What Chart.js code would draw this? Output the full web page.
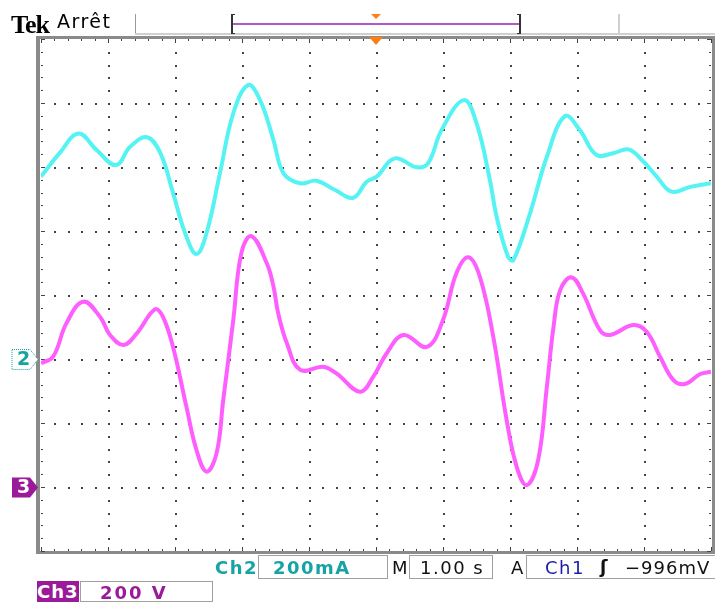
<!DOCTYPE html>
<html lang="fr">
<head>
<meta charset="UTF-8">
<title>Tek Arrêt</title>
<script src="https://cdn.jsdelivr.net/npm/chart.js"></script>
<style>
body { margin:0; background:#fff; font-family:"DejaVu Sans", sans-serif; }
#scope { position:relative; width:715px; height:603px; }
#scope canvas { position:absolute; left:0; top:0; }
.lbl { position:absolute; white-space:nowrap; line-height:1; }
.box { position:absolute; box-sizing:border-box; border:1px solid #a0a0a0; }
.teal { color:#17a3a3; font-weight:bold; font-size:18px; letter-spacing:1.5px; }
.blk { color:#111; font-size:18px; letter-spacing:1.5px; }
</style>
</head>
<body>
<div id="scope">
<canvas id="chart" width="715" height="603"></canvas>

<div class="lbl" style="left:11px; top:10px; font:bold 26px 'Liberation Serif', serif; letter-spacing:-1px;">Tek</div>
<div class="lbl" style="left:57px; top:12px; font-size:19px; letter-spacing:1.5px;">Arrêt</div>

<div class="lbl teal" style="left:215px; top:559px;">Ch2</div>
<div class="box" style="left:258px; top:555px; width:130px; height:24px;"></div>
<div class="lbl teal" style="left:273px; top:559px;">200mA</div>
<div class="lbl blk" style="left:392px; top:559px;">M</div>
<div class="box" style="left:409px; top:555px; width:84px; height:24px;"></div>
<div class="lbl blk" style="left:420px; top:559px;">1.00 s</div>
<div class="lbl blk" style="left:511px; top:559px;">A</div>
<div class="box" style="left:526px; top:555px; width:189px; height:24px; border-right:none;"></div>
<div class="lbl" style="left:545px; top:559px; color:#1c1ca8; font-size:18px; letter-spacing:1.5px;">Ch1</div>
<div class="lbl blk" style="left:600px; top:558px; font-weight:bold;">ʃ</div>
<div class="lbl blk" style="left:625px; top:559px; letter-spacing:1px;">−996mV</div>

<div class="lbl" style="left:37px; top:581px; width:42px; height:21px; background:#9a1a9a; color:#fff; font-weight:bold; font-size:18px; padding-top:2px; box-sizing:border-box; letter-spacing:1px;">Ch3</div>
<div class="box" style="left:80px; top:581px; width:133px; height:21px;"></div>
<div class="lbl" style="left:100px; top:584px; color:#9a1a9a; font-weight:bold; font-size:18px; letter-spacing:2px;">200 V</div>

<div class="lbl" style="left:17px; top:349px; color:#17a3a3; font-weight:bold; font-size:19px;">2</div>
<div class="lbl" style="left:17px; top:477px; color:#fff; font-weight:bold; font-size:19px;">3</div>
</div>

<script>
// Ch2 (courant) : 200 mA/div, masse à -1 div
const ch2Time = [0.00,0.28,0.56,0.83,1.12,1.33,1.58,1.78,1.97,2.15,2.32,2.47,2.67,2.87,3.09,3.27,3.47,3.62,3.87,4.11,4.39,4.66,4.86,5.01,5.28,5.61,5.78,5.98,6.31,6.50,6.70,6.80,6.97,7.05,7.30,7.55,7.82,8.04,8.29,8.54,8.77,8.99,9.19,9.41,9.69,10.0];
const ch2Current = [570,644,705,653,606,663,693,644,519,394,328,393,580,768,856,809,684,580,549,557,528,504,554,570,627,599,613,716,809,737,559,445,320,309,456,632,759,716,638,643,655,617,570,523,538,549];

// Ch3 (tension) : 200 V/div, masse à -3 div
const ch3Time = [0.00,0.18,0.38,0.63,0.88,1.03,1.23,1.43,1.70,1.82,1.97,2.17,2.32,2.47,2.62,2.72,2.87,2.99,3.14,3.37,3.47,3.54,3.67,3.87,4.21,4.41,4.76,4.96,5.16,5.41,5.76,6.00,6.20,6.38,6.55,6.75,6.95,7.10,7.25,7.42,7.55,7.65,7.75,7.92,8.09,8.34,8.49,8.84,9.04,9.24,9.44,9.61,9.84,10.0];
const ch3Voltage = [387,407,512,579,532,475,444,480,555,532,438,251,116,48,105,272,522,731,784,699,626,543,449,366,376,355,298,345,418,475,438,522,668,718,657,470,209,63,6,84,313,501,616,655,605,491,475,506,485,407,334,322,353,360];

const CH2_SCALE = 200, CH2_GND = -1;
const CH3_SCALE = 200, CH3_GND = -3;
const TRIG_TIME = 5;

// graticule + décor de l'écran
const scopeDecor = {
  id: 'scopeDecor',
  beforeDatasetsDraw(chart) {
    const {ctx, chartArea: a, scales: {x, y}} = chart;
    ctx.save();
    // cadre gris
    ctx.fillStyle = '#8a8a8a';
    ctx.fillRect(a.left - 5, a.top - 3, a.right - a.left + 9, 3);
    ctx.fillRect(a.left - 5, a.bottom, a.right - a.left + 9, 3);
    ctx.fillRect(a.left - 5, a.top - 3, 4, a.bottom - a.top + 6);
    ctx.fillRect(a.right + 1, a.top - 3, 3, a.bottom - a.top + 6);

    ctx.fillStyle = '#444';
    // graduations sur le bord
    for (let i = 0; i <= 50; i++) {
      const px = Math.round(x.getPixelForValue(i / 5));
      const len = i % 5 === 0 ? 4 : 2;
      ctx.fillRect(px, a.top, 1, len);
      ctx.fillRect(px, a.bottom - len, 1, len);
    }
    for (let i = -20; i <= 20; i++) {
      const py = Math.round(y.getPixelForValue(i / 5));
      const len = i % 5 === 0 ? 4 : 2;
      ctx.fillRect(a.left, py, len, 1);
      ctx.fillRect(a.right - len, py, len, 1);
    }
    // lignes pointillées des divisions
    for (let d = -3; d <= 3; d++) {
      const py = Math.round(y.getPixelForValue(d));
      for (let i = 1; i < 50; i++) {
        const px = Math.round(x.getPixelForValue(i / 5));
        ctx.fillRect(px, py, 2, 2);
      }
    }
    for (let d = 1; d <= 9; d++) {
      const px = Math.round(x.getPixelForValue(d));
      for (let i = -19; i < 20; i++) {
        const py = Math.round(y.getPixelForValue(i / 5));
        ctx.fillRect(px, py, 2, 2);
      }
    }
    ctx.restore();
  },
  afterDraw(chart) {
    const {ctx, chartArea: a, scales: {x, y}} = chart;
    ctx.save();
    // onglet du haut
    ctx.fillStyle = '#9a9a9a';
    ctx.fillRect(135, 14, 1, 21);
    ctx.fillStyle = '#d0d0d0';
    ctx.fillRect(618, 14, 2, 21);
    ctx.fillRect(135, 33, 580, 2);
    // barre d'enregistrement
    ctx.fillStyle = '#b556c6';
    ctx.fillRect(233, 23, 287, 2);
    ctx.fillStyle = '#333';
    ctx.fillRect(231, 14, 2, 20);
    ctx.fillRect(231, 14, 4, 1);
    ctx.fillRect(231, 33, 4, 1);
    ctx.fillRect(519, 14, 2, 20);
    ctx.fillRect(517, 14, 4, 1);
    ctx.fillRect(517, 33, 4, 1);
    // repères de déclenchement
    const tx = x.getPixelForValue(TRIG_TIME);
    ctx.fillStyle = '#ff7f10';
    ctx.beginPath();
    ctx.moveTo(tx - 5, 14); ctx.lineTo(tx + 5, 14); ctx.lineTo(tx, 19); ctx.closePath();
    ctx.fill();
    ctx.beginPath();
    ctx.moveTo(tx - 7, a.top - 2); ctx.lineTo(tx + 7, a.top - 2); ctx.lineTo(tx, a.top + 6); ctx.closePath();
    ctx.fill();
    // marqueurs de masse des voies
    const marker = (cy) => {
      ctx.beginPath();
      ctx.moveTo(12, cy - 10); ctx.lineTo(30, cy - 10); ctx.lineTo(38, cy);
      ctx.lineTo(30, cy + 10); ctx.lineTo(12, cy + 10); ctx.closePath();
    };
    const c2 = Math.round(y.getPixelForValue(CH2_GND)) + 0.5;
    marker(c2);
    ctx.fillStyle = '#fff'; ctx.fill();
    ctx.setLineDash([1, 1]);
    ctx.strokeStyle = '#17a3a3'; ctx.lineWidth = 1; ctx.stroke();
    ctx.setLineDash([]);
    const c3 = Math.round(y.getPixelForValue(CH3_GND)) + 0.5;
    marker(c3);
    ctx.fillStyle = '#9a1a9a'; ctx.fill();
    ctx.restore();
  }
};

new Chart(document.getElementById('chart'), {
  type: 'line',
  data: {
    datasets: [
      {
        label: 'Ch2',
        data: ch2Time.map((t, i) => ({x: t, y: ch2Current[i] / CH2_SCALE + CH2_GND})),
        borderColor: '#55f3f3',
        borderWidth: 4,
        tension: 0.4
      },
      {
        label: 'Ch3',
        data: ch3Time.map((t, i) => ({x: t, y: ch3Voltage[i] / CH3_SCALE + CH3_GND})),
        borderColor: '#ff5eff',
        borderWidth: 4,
        tension: 0.4
      }
    ]
  },
  options: {
    responsive: false,
    animation: false,
    elements: { point: { radius: 0 }, line: { tension: 0.4, capBezierPoints: true } },
    layout: { padding: { left: 41, top: 39, right: 4, bottom: 52 } },
    plugins: { legend: { display: false }, tooltip: { enabled: false } },
    scales: {
      x: { type: 'linear', min: 0, max: 10, display: false },
      y: { min: -4, max: 4, display: false }
    }
  },
  plugins: [scopeDecor]
});
</script>
</body>
</html>
